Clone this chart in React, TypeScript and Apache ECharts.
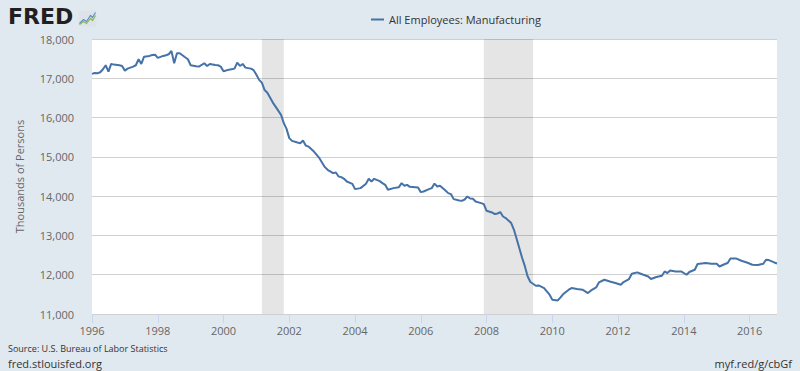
import { useEffect, useRef } from "react";
import * as echarts from "echarts";

const seriesName = "All Employees: Manufacturing";

const dates = [
  "1996-01","1996-02","1996-03","1996-04","1996-05","1996-06","1996-07","1996-08","1996-09","1996-11","1996-12",
  "1997-01","1997-02","1997-04","1997-05","1997-06","1997-07","1997-08","1997-10","1997-11","1997-12",
  "1998-01","1998-03","1998-04","1998-05","1998-06","1998-07","1998-08","1998-09","1998-11","1998-12",
  "1999-01","1999-03","1999-04","1999-06","1999-07","1999-08","1999-10","1999-11","1999-12",
  "2000-01","2000-03","2000-05","2000-06","2000-07","2000-08","2000-09","2000-11","2000-12",
  "2001-01","2001-02","2001-03","2001-04","2001-05","2001-07","2001-08","2001-10","2001-11","2001-12",
  "2002-01","2002-02","2002-04","2002-05","2002-06","2002-07","2002-08","2002-10","2002-12",
  "2003-02","2003-03","2003-05","2003-06","2003-07","2003-08","2003-09","2003-10","2003-12",
  "2004-01","2004-03","2004-05","2004-06","2004-07","2004-08","2004-10","2004-11","2004-12",
  "2005-01","2005-03","2005-05","2005-06","2005-07","2005-08","2005-09","2005-11","2005-12",
  "2006-01","2006-02","2006-04","2006-05","2006-06","2006-07","2006-08","2006-10","2006-11","2006-12",
  "2007-01","2007-03","2007-04","2007-05","2007-06","2007-07","2007-08","2007-09","2007-11","2007-12",
  "2008-01","2008-03","2008-04","2008-05","2008-06","2008-07","2008-08","2008-10","2008-11","2008-12",
  "2009-02","2009-03","2009-04","2009-05","2009-07","2009-08","2009-10","2009-11","2009-12",
  "2010-01","2010-03","2010-04","2010-05","2010-07","2010-08","2010-10","2010-12",
  "2011-02","2011-03","2011-05","2011-06","2011-08","2011-10","2011-12",
  "2012-02","2012-03","2012-05","2012-06","2012-08","2012-10","2012-12",
  "2013-01","2013-03","2013-05","2013-06","2013-07","2013-08","2013-10","2013-12",
  "2014-02","2014-03","2014-05","2014-06","2014-09","2014-11",
  "2015-01","2015-02","2015-04","2015-05","2015-06","2015-08","2015-10","2015-12",
  "2016-02","2016-04","2016-06","2016-07","2016-08","2016-10","2016-11"
];

const values = [
  17111,17136,17129,17154,17230,17332,17170,17365,17348,17332,17314,
  17195,17246,17297,17332,17485,17365,17551,17569,17594,17602,
  17518,17569,17586,17612,17696,17383,17637,17637,17535,17485,
  17332,17307,17297,17383,17314,17365,17340,17332,17297,
  17179,17220,17246,17399,17314,17365,17271,17246,17205,
  17090,16960,16890,16700,16630,16381,16279,16068,15857,15712,
  15476,15407,15364,15348,15415,15288,15262,15135,14967,
  14738,14670,14586,14601,14499,14484,14441,14372,14314,
  14179,14204,14314,14441,14372,14441,14382,14331,14288,
  14161,14204,14229,14331,14263,14288,14237,14229,14220,
  14102,14118,14179,14204,14320,14245,14263,14143,14077,14052,
  13924,13889,13881,13914,13990,13940,13932,13863,13823,13797,
  13627,13584,13543,13558,13594,13482,13441,13314,13144,12907,
  12424,12211,11956,11814,11720,11727,11661,11575,11491,
  11364,11346,11422,11509,11618,11661,11636,11618,
  11534,11593,11676,11804,11872,11829,11788,
  11745,11814,11890,12025,12059,12007,11956,
  11890,11941,11974,12083,12043,12109,12083,12083,
  11999,12068,12127,12272,12297,12279,
  12279,12210,12272,12297,12414,12414,12355,12312,
  12254,12246,12279,12381,12373,12312,12287
];

const recessionStarts = ["2001-03", "2007-12"];
const recessionEnds = ["2001-11", "2009-06"];

const yearTicks = [1996, 1998, 2000, 2002, 2004, 2006, 2008, 2010, 2012, 2014, 2016];
const yTicks = [11000, 12000, 13000, 14000, 15000, 16000, 17000, 18000];

const toYear = (d: string) => {
  const [y, m] = d.split("-").map(Number);
  return y + (m - 1) / 12;
};

const FONT = '"Open Sans", "Noto Sans", sans-serif';

export default function App() {
  const ref = useRef<HTMLDivElement>(null);

  useEffect(() => {
    document.body.style.margin = "0";
    if (!ref.current) return;
    const chart = echarts.init(ref.current, undefined, { renderer: "svg" });
    const seriesData = dates.map((d, i) => [toYear(d), values[i]]);
    const xMax = toYear(dates[dates.length - 1]);

    chart.setOption({
      animation: false,
      backgroundColor: "#e1e9f0",
      textStyle: { fontFamily: FONT },
      grid: {
        left: 92,
        right: 23,
        top: 39,
        bottom: 57,
        show: true,
        backgroundColor: "#ffffff",
        borderWidth: 0,
      },
      legend: {
        data: [seriesName],
        top: 9,
        left: 366,
        icon: "rect",
        itemWidth: 13,
        itemHeight: 2,
        itemGap: 10,
        textStyle: { fontSize: 11, color: "#333333", fontFamily: FONT },
      },
      xAxis: {
        type: "value",
        min: 1996,
        max: xMax,
        interval: 2,
        axisLine: { show: false },
        axisTick: {
          show: true,
          length: 9,
          customValues: yearTicks,
          lineStyle: { color: "#ccd6eb" },
        },
        axisLabel: {
          customValues: yearTicks,
          formatter: (v: number) => String(Math.round(v)),
          color: "#666666",
          fontSize: 11,
          margin: 11,
          fontFamily: FONT,
        },
        splitLine: { show: false },
      },
      yAxis: {
        type: "value",
        min: yTicks[0],
        max: yTicks[yTicks.length - 1],
        interval: 1000,
        name: "Thousands of Persons",
        nameLocation: "middle",
        nameGap: 67,
        nameTextStyle: { fontSize: 11, color: "#666666", fontFamily: FONT },
        axisLine: { show: false },
        axisTick: { show: false },
        axisLabel: {
          color: "#666666",
          fontSize: 11,
          margin: 18,
          fontFamily: FONT,
          formatter: (v: number) => v.toLocaleString("en-US"),
        },
        splitLine: { lineStyle: { color: "#d0d0d0", width: 1 } },
      },
      series: [
        {
          name: seriesName,
          type: "line",
          data: seriesData,
          showSymbol: false,
          symbol: "none",
          lineStyle: { color: "#4572a7", width: 2 },
          itemStyle: { color: "#4572a7" },
          markArea: {
            silent: true,
            itemStyle: { color: "rgba(0,0,0,0.1)" },
            data: recessionStarts.map((s, i) => [
              { xAxis: toYear(s) },
              { xAxis: toYear(recessionEnds[i]) },
            ]),
          },
        },
      ],
      graphic: [
        {
          type: "text",
          left: 8,
          top: 5,
          style: {
            text: "FRED",
            fontSize: 22,
            fontWeight: "bold",
            fontFamily: '"DejaVu Sans", sans-serif',
            fill: "#231f20",
          },
        },
        {
          type: "group",
          left: 77,
          top: 10,
          children: [
            {
              type: "rect",
              shape: { x: 0, y: 0, width: 18, height: 16, r: 1 },
              style: { fill: "#dde3e8" },
            },
            {
              type: "polyline",
              shape: { points: [[1, 13], [5, 9], [8, 11], [12, 5], [14, 7], [17, 2]] },
              style: { stroke: "#5b8fc7", lineWidth: 1.2, fill: "none" },
            },
            {
              type: "polyline",
              shape: { points: [[1, 14], [5, 11], [8, 13], [12, 8], [14, 10], [17, 5]] },
              style: { stroke: "#8db657", lineWidth: 1.2, fill: "none" },
            },
          ],
        },
        {
          type: "text",
          left: 8,
          top: 344,
          style: {
            text: "Source: U.S. Bureau of Labor Statistics",
            fontSize: 9,
            fontFamily: FONT,
            fill: "#333333",
          },
        },
        {
          type: "text",
          left: 8,
          top: 358,
          style: {
            text: "fred.stlouisfed.org",
            fontSize: 11,
            fontFamily: FONT,
            fill: "#333333",
          },
        },
        {
          type: "text",
          right: 8,
          top: 358,
          style: {
            text: "myf.red/g/cbGf",
            fontSize: 11,
            fontFamily: FONT,
            fill: "#333333",
          },
        },
      ],
    });

    return () => chart.dispose();
  }, []);

  return (
    <div
      ref={ref}
      style={{ position: "absolute", left: 0, top: 0, width: 800, height: 371 }}
    />
  );
}
